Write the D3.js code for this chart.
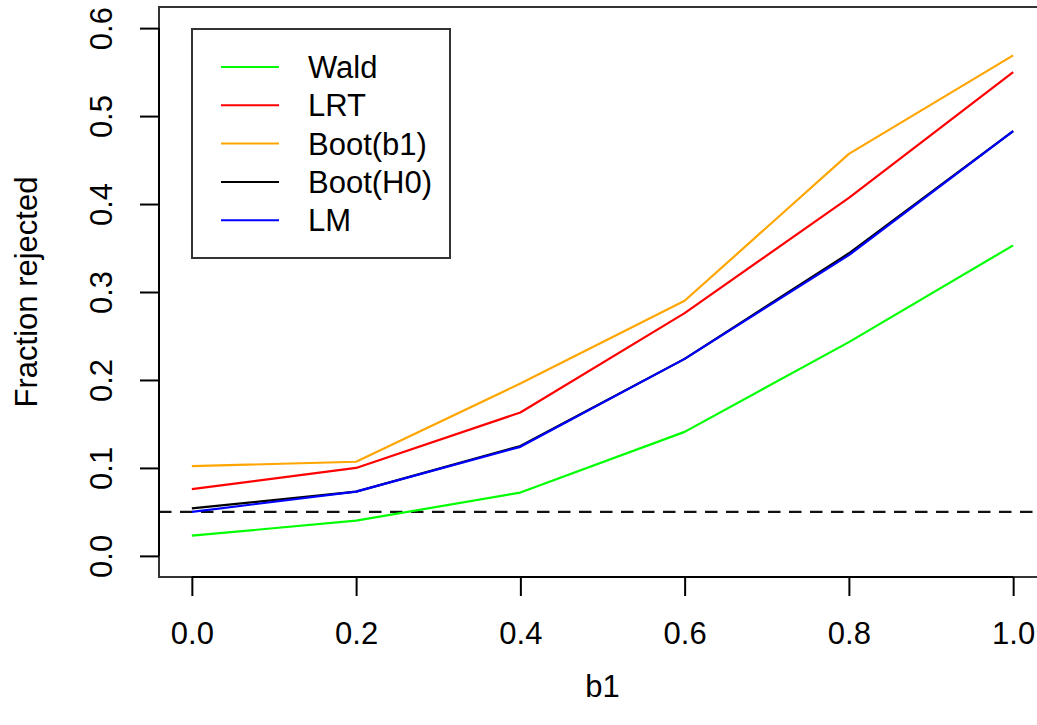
<!DOCTYPE html>
<html>
<head>
<meta charset="utf-8">
<script src="https://cdn.jsdelivr.net/npm/d3@7"></script>
<style>
  html, body { margin: 0; padding: 0; background: #fff; }
  svg { display: block; font-family: "Liberation Sans", Arial, Helvetica, sans-serif; }
</style>
</head>
<body>
<svg id="chart" width="1037" height="725"></svg>
<script>
// Rejection fraction by true slope b1, for each test
const b1Values = [0.0, 0.2, 0.4, 0.6, 0.8, 1.0];
const seriesNames = ["Wald", "LRT", "Boot(b1)", "Boot(H0)", "LM"];
const seriesColors = ["#00ff00", "#ff0000", "#ffa500", "#000000", "#0000ff"];
const wald   = [0.023, 0.040, 0.072, 0.141, 0.243, 0.353];
const lrt    = [0.076, 0.100, 0.163, 0.276, 0.407, 0.550];
const bootB1 = [0.102, 0.107, 0.196, 0.290, 0.457, 0.569];
const bootH0 = [0.054, 0.073, 0.125, 0.224, 0.344, 0.483];
const lm     = [0.050, 0.073, 0.124, 0.224, 0.342, 0.483];
const nominalLevel = 0.05;
const xTicks = [0.0, 0.2, 0.4, 0.6, 0.8, 1.0];
const yTicks = [0.0, 0.1, 0.2, 0.3, 0.4, 0.5, 0.6];

const seriesValues = [wald, lrt, bootB1, bootH0, lm];
const series = seriesNames.map((name, i) => ({
  name, color: seriesColors[i],
  points: b1Values.map((b, j) => ({ x: b, y: seriesValues[i][j] }))
}));

const svg = d3.select("#chart");

// Plot region (axis ranges padded 4% beyond limits, as in base graphics)
const box = { left: 159, right: 1046, top: 7, bottom: 577 };
const pad = 0.04;
const x = d3.scaleLinear()
  .domain([0 - pad * 1, 1 + pad * 1])
  .range([box.left, box.right]);
const y = d3.scaleLinear()
  .domain([0 - pad * 0.6, 0.6 + pad * 0.6])
  .range([box.bottom, box.top]);

const fontSize = 31;

// Reference line at the nominal level
svg.append("line")
  .attr("x1", box.left).attr("x2", box.right)
  .attr("y1", y(nominalLevel)).attr("y2", y(nominalLevel))
  .attr("stroke", "#111").attr("stroke-width", 2.2)
  .attr("stroke-dasharray", "12.5,8.5");

// Series lines
const line = d3.line().x(d => x(d.x)).y(d => y(d.y));
svg.append("g").selectAll("path")
  .data(series)
  .join("path")
  .attr("d", d => line(d.points))
  .attr("fill", "none")
  .attr("stroke", d => d.color)
  .attr("stroke-width", 2.2)
  .attr("stroke-linejoin", "round");

// Plot box
svg.append("rect")
  .attr("x", box.left).attr("y", box.top)
  .attr("width", box.right - box.left).attr("height", box.bottom - box.top)
  .attr("fill", "none").attr("stroke", "#333").attr("stroke-width", 2);

// X axis
const xAxis = d3.axisBottom(x).tickValues(xTicks).tickFormat(d3.format(".1f"))
  .tickSize(19).tickPadding(26);
const gx = svg.append("g").attr("transform", `translate(0,${box.bottom})`).call(xAxis);
gx.select(".domain").attr("d", `M${x(xTicks[0])},0H${x(xTicks[xTicks.length - 1])}`)
  .attr("stroke", "#000").attr("stroke-width", 2);
gx.selectAll(".tick line").attr("stroke", "#000").attr("stroke-width", 2);
gx.selectAll(".tick text").attr("font-size", fontSize).attr("fill", "#000")
  .attr("font-family", "Liberation Sans, Arial, sans-serif");

// Y axis (labels parallel to the axis)
const yAxis = d3.axisLeft(y).tickValues(yTicks).tickFormat(d3.format(".1f"))
  .tickSize(19).tickPadding(0);
const gy = svg.append("g").attr("transform", `translate(${box.left},0)`).call(yAxis);
gy.select(".domain").attr("d", `M0,${y(yTicks[0])}V${y(yTicks[yTicks.length - 1])}`)
  .attr("stroke", "#000").attr("stroke-width", 2);
gy.selectAll(".tick line").attr("stroke", "#000").attr("stroke-width", 2);
gy.selectAll(".tick text")
  .attr("font-size", fontSize).attr("fill", "#000")
  .attr("font-family", "Liberation Sans, Arial, sans-serif")
  .attr("x", null).attr("dy", null)
  .attr("text-anchor", "middle")
  .attr("transform", "translate(-47,0) rotate(-90)");

// Axis titles
svg.append("text")
  .attr("x", (box.left + box.right) / 2).attr("y", 697)
  .attr("text-anchor", "middle").attr("font-size", fontSize).attr("fill", "#000")
  .text("b1");
svg.append("text")
  .attr("transform", `translate(37,${(box.top + box.bottom) / 2}) rotate(-90)`)
  .attr("text-anchor", "middle").attr("font-size", fontSize).attr("fill", "#000")
  .text("Fraction rejected");

// Legend
const legend = svg.append("g");
legend.append("rect")
  .attr("x", 192).attr("y", 29).attr("width", 258).attr("height", 229)
  .attr("fill", "#fff").attr("stroke", "#333").attr("stroke-width", 2);
const rowY = i => 67 + i * 38.3;
legend.selectAll("line.key")
  .data(series)
  .join("line")
  .attr("class", "key")
  .attr("x1", 221).attr("x2", 279)
  .attr("y1", (d, i) => rowY(i)).attr("y2", (d, i) => rowY(i))
  .attr("stroke", d => d.color).attr("stroke-width", 2);
legend.selectAll("text")
  .data(series)
  .join("text")
  .attr("x", 308).attr("y", (d, i) => rowY(i))
  .attr("dy", "0.36em")
  .attr("font-size", fontSize).attr("fill", "#000")
  .text(d => d.name);
</script>
</body>
</html>
